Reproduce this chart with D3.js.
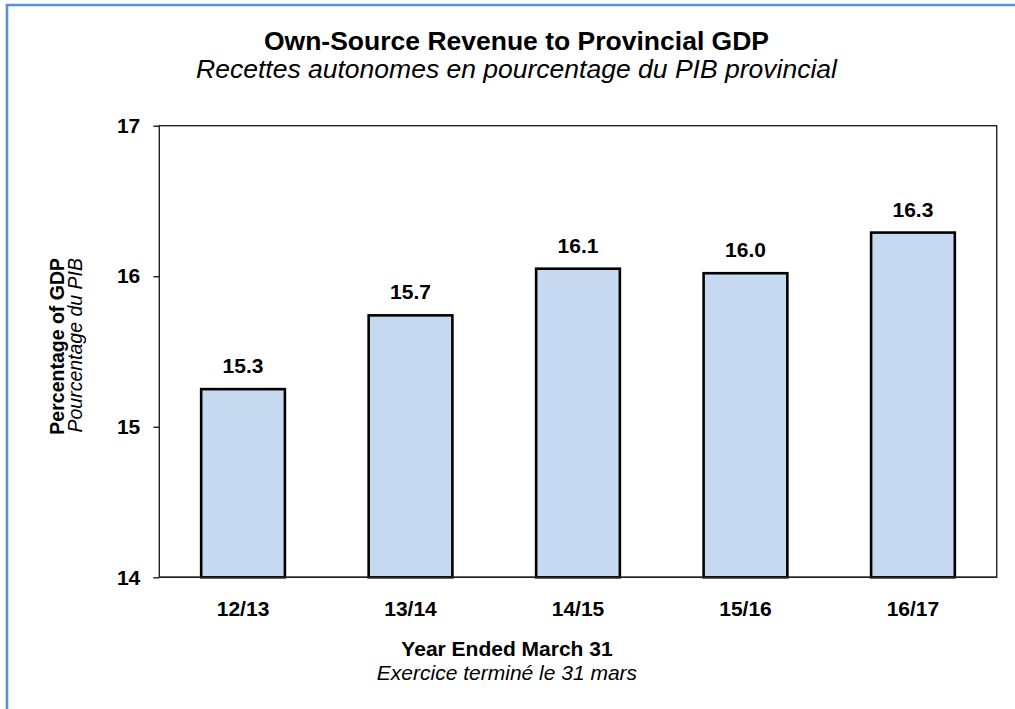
<!DOCTYPE html>
<html>
<head>
<meta charset="utf-8">
<script src="https://cdn.jsdelivr.net/npm/d3@7"></script>
<style>
  html, body { margin: 0; padding: 0; background: #fff; }
  svg { display: block; font-family: "Liberation Sans", Arial, sans-serif; }
</style>
</head>
<body>
<svg id="chart" width="1015" height="709"></svg>
<script>
// Fiscal years and own-source revenue as a share of provincial GDP (%)
const years = ["12/13", "13/14", "14/15", "15/16", "16/17"];
const revenueShare = [15.25, 15.74, 16.05, 16.02, 16.29];
const yTicks = [14, 15, 16, 17];

const titleText = "Own-Source Revenue to Provincial GDP";
const subtitleText = "Recettes autonomes en pourcentage du PIB provincial";
const yTitleEn = "Percentage of GDP";
const yTitleFr = "Pourcentage du PIB";
const xTitleEn = "Year Ended March 31";
const xTitleFr = "Exercice terminé le 31 mars";

const svg = d3.select("#chart");
const W = 1015, H = 709;
const plot = { left: 159.3, top: 125.7, right: 996.7, bottom: 577.3 };

// outer frame (open on the right and bottom edges of the page)
svg.append("path")
  .attr("d", `M7,${H + 5} L7,5 L${W + 5},5`)
  .attr("fill", "none")
  .attr("stroke", "#5b8fd8")
  .attr("stroke-width", 2.6);

const x = d3.scaleBand()
  .domain(years)
  .range([plot.left, plot.right])
  .paddingInner(0.5)
  .paddingOuter(0.25);

const y = d3.scaleLinear()
  .domain([14, 17])
  .range([plot.bottom, plot.top]);

// plot area box
svg.append("rect")
  .attr("x", plot.left).attr("y", plot.top)
  .attr("width", plot.right - plot.left)
  .attr("height", plot.bottom - plot.top)
  .attr("fill", "none")
  .attr("stroke", "#222")
  .attr("stroke-width", 1.4);

// bars
svg.append("g").selectAll("rect")
  .data(years)
  .join("rect")
  .attr("x", d => x(d))
  .attr("width", x.bandwidth())
  .attr("y", (d, i) => y(revenueShare[i]))
  .attr("height", (d, i) => y(14) - y(revenueShare[i]))
  .attr("fill", "#c6d9f0")
  .attr("stroke", "#000")
  .attr("stroke-width", 2.6);

// redraw the baseline over the bar bottoms
svg.append("line")
  .attr("x1", plot.left).attr("x2", plot.right)
  .attr("y1", plot.bottom).attr("y2", plot.bottom)
  .attr("stroke", "#222").attr("stroke-width", 1.4);

// value labels
const fmt = d3.format(".1f");
svg.append("g").selectAll("text")
  .data(years)
  .join("text")
  .attr("x", d => x(d) + x.bandwidth() / 2)
  .attr("y", (d, i) => y(revenueShare[i]) - 16)
  .attr("text-anchor", "middle")
  .attr("font-weight", "bold")
  .attr("font-size", 21)
  .attr("fill", "#000")
  .text((d, i) => fmt(revenueShare[i]));

// y axis
const yAxis = svg.append("g")
  .attr("transform", `translate(${plot.left},0)`)
  .call(d3.axisLeft(y).tickValues(yTicks).tickFormat(d3.format("d")).tickSize(6).tickPadding(13));
yAxis.select(".domain").remove();
yAxis.selectAll(".tick line").attr("stroke", "#222").attr("stroke-width", 1.4);
yAxis.selectAll(".tick text")
  .attr("font-family", "Liberation Sans, Arial, sans-serif")
  .attr("font-size", 21).attr("font-weight", "bold").attr("fill", "#000");

// x axis
const xAxis = svg.append("g")
  .attr("transform", `translate(0,${plot.bottom})`)
  .call(d3.axisBottom(x).tickSize(0).tickPadding(24));
xAxis.select(".domain").remove();
xAxis.selectAll(".tick text")
  .attr("font-family", "Liberation Sans, Arial, sans-serif")
  .attr("font-size", 21).attr("font-weight", "bold").attr("fill", "#000");

// titles
svg.append("text")
  .attr("x", 516.5).attr("y", 50)
  .attr("text-anchor", "middle")
  .attr("font-size", 26.5).attr("font-weight", "bold")
  .text(titleText);
svg.append("text")
  .attr("x", 516.5).attr("y", 78)
  .attr("text-anchor", "middle")
  .attr("font-size", 26.5).attr("font-style", "italic")
  .text(subtitleText);

// y axis titles
svg.append("text")
  .attr("transform", "translate(64,258) rotate(-90)")
  .attr("text-anchor", "end")
  .attr("font-size", 19.5).attr("font-weight", "bold")
  .text(yTitleEn);
svg.append("text")
  .attr("transform", "translate(82,258) rotate(-90)")
  .attr("text-anchor", "end")
  .attr("font-size", 19.5).attr("font-style", "italic")
  .text(yTitleFr);

// x axis titles
svg.append("text")
  .attr("x", 507).attr("y", 656)
  .attr("text-anchor", "middle")
  .attr("font-size", 21).attr("font-weight", "bold")
  .text(xTitleEn);
svg.append("text")
  .attr("x", 507).attr("y", 680)
  .attr("text-anchor", "middle")
  .attr("font-size", 21).attr("font-style", "italic")
  .text(xTitleFr);
</script>
</body>
</html>
